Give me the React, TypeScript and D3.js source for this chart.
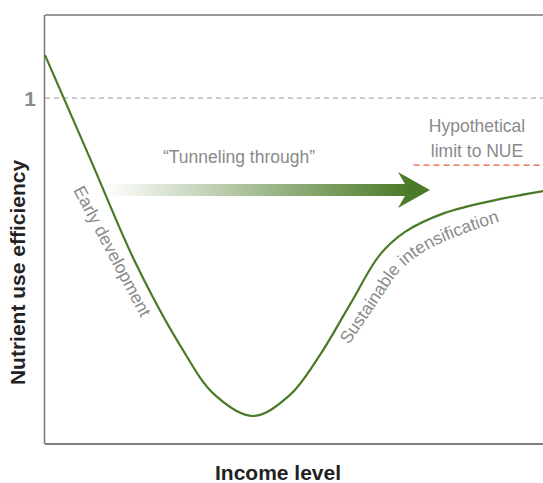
import React, { useRef, useEffect } from 'react';
import * as d3 from 'd3';

// Curve: income (0-10) vs nutrient use efficiency
const incomeLevels = [0, 0.9, 1.81, 2.71, 3.41, 4.18, 4.92, 5.52, 6.12, 6.72, 7.23, 8.03, 9.04, 10];
const nueValues = [1.124, 0.827, 0.526, 0.286, 0.142, 0.081, 0.142, 0.257, 0.402, 0.546, 0.613, 0.668, 0.705, 0.731];

// guide path for the "Sustainable intensification" label
const labelX = [6.1, 6.69, 7.13, 7.63, 8.43, 9.5];
const labelY = [0.286, 0.41, 0.5, 0.557, 0.609, 0.66];

const yTicks = [1];
const nueLimit = 0.806;
const limitStart = 7.4;
const arrowStart = 1.2;
const arrowTip = 7.73;
const arrowLevel = 0.734;

const App: React.FC = () => {
  const svgRef = useRef<SVGSVGElement>(null);
  const width = 543;
  const height = 483;

  useEffect(() => {
    if (!svgRef.current) return;
    const svg = d3.select(svgRef.current);
    svg.selectAll('*').remove();

    const left = 45, right = 543, top = 15, bottom = 444;
    const x = d3.scaleLinear().domain([0, 10]).range([left, right]);
    const y = d3.scaleLinear().domain([0, 1.24]).range([bottom, top]);

    const font = '"Liberation Sans", Arial, Helvetica, sans-serif';
    const green = '#4a7a27';
    const grey = '#8a8a8a';

    const defs = svg.append('defs');
    const grad = defs.append('linearGradient')
      .attr('id', 'tunnel')
      .attr('gradientUnits', 'userSpaceOnUse')
      .attr('x1', x(arrowStart)).attr('x2', x(arrowTip) - 20)
      .attr('y1', 0).attr('y2', 0);
    grad.append('stop').attr('offset', '0%').attr('stop-color', '#ffffff');
    grad.append('stop').attr('offset', '100%').attr('stop-color', green);

    // frame
    svg.append('line').attr('x1', left).attr('x2', right).attr('y1', top).attr('y2', top)
      .attr('stroke', '#777').attr('stroke-width', 1.5);
    svg.append('line').attr('x1', left).attr('x2', right).attr('y1', bottom).attr('y2', bottom)
      .attr('stroke', '#555').attr('stroke-width', 1.5);
    svg.append('line').attr('x1', left - 0.5).attr('x2', left - 0.5).attr('y1', top).attr('y2', bottom)
      .attr('stroke', '#777').attr('stroke-width', 1.5);

    // y = 1 reference
    yTicks.forEach(t => {
      svg.append('line')
        .attr('x1', left).attr('x2', right)
        .attr('y1', y(t)).attr('y2', y(t))
        .attr('stroke', '#999').attr('stroke-width', 1)
        .attr('stroke-dasharray', '5,4');
      svg.append('text')
        .attr('x', 30).attr('y', y(t) + 8)
        .attr('text-anchor', 'middle')
        .attr('font-family', font).attr('font-size', '21px').attr('font-weight', 700)
        .attr('fill', grey)
        .text(String(t));
    });

    // hypothetical limit
    svg.append('line')
      .attr('x1', x(limitStart)).attr('x2', right)
      .attr('y1', y(nueLimit)).attr('y2', y(nueLimit))
      .attr('stroke', '#ef5a3f').attr('stroke-width', 1.4)
      .attr('stroke-dasharray', '6,4');
    svg.append('text')
      .attr('x', 477).attr('y', y(nueLimit) - 33)
      .attr('text-anchor', 'middle')
      .attr('font-family', font).attr('font-size', '17.5px').attr('fill', grey)
      .text('Hypothetical');
    svg.append('text')
      .attr('x', 477).attr('y', y(nueLimit) - 8)
      .attr('text-anchor', 'middle')
      .attr('font-family', font).attr('font-size', '17.5px').attr('fill', grey)
      .text('limit to NUE');

    // tunneling arrow
    const ay = y(arrowLevel);
    const ax0 = x(arrowStart);
    const axTip = x(arrowTip);
    const headBack = axTip - 32;
    const pts: [number, number][] = [
      [ax0, ay - 6], [headBack + 7, ay - 6], [headBack, ay - 18], [axTip, ay],
      [headBack, ay + 18], [headBack + 7, ay + 6], [ax0, ay + 6]
    ];
    svg.append('path')
      .attr('d', 'M' + pts.map(p => p.join(',')).join('L') + 'Z')
      .attr('fill', 'url(#tunnel)');
    svg.append('text')
      .attr('x', 239).attr('y', ay - 27)
      .attr('text-anchor', 'middle')
      .attr('font-family', font).attr('font-size', '17.5px').attr('fill', grey)
      .text('\u201CTunneling through\u201D');

    // main curve
    const line = d3.line<number>()
      .x((_, i) => x(incomeLevels[i]))
      .y(d => y(d))
      .curve(d3.curveCatmullRom.alpha(0.5));
    svg.append('path')
      .attr('d', line(nueValues))
      .attr('fill', 'none')
      .attr('stroke', green)
      .attr('stroke-width', 2.2);

    // curve labels
    svg.append('text')
      .attr('transform', 'translate(73,190) rotate(62)')
      .attr('font-family', font).attr('font-size', '17.5px').attr('fill', grey)
      .text('Early development');

    const guide = d3.line<number>()
      .x((_, i) => x(labelX[i]))
      .y(d => y(d))
      .curve(d3.curveCatmullRom);
    defs.append('path').attr('id', 'susPath').attr('d', guide(labelY));
    svg.append('text')
      .attr('font-family', font).attr('font-size', '17.5px').attr('fill', grey)
      .append('textPath')
      .attr('href', '#susPath')
      .text('Sustainable intensification');

    // axis titles
    svg.append('text')
      .attr('transform', `translate(25,${(top + bottom) / 2 + 43}) rotate(-90)`)
      .attr('text-anchor', 'middle')
      .attr('font-family', font).attr('font-size', '21px').attr('font-weight', 700)
      .attr('fill', '#222')
      .text('Nutrient use efficiency');
    svg.append('text')
      .attr('x', 278).attr('y', 480)
      .attr('text-anchor', 'middle')
      .attr('font-family', font).attr('font-size', '21px').attr('font-weight', 700)
      .attr('fill', '#222')
      .text('Income level');
  }, []);

  return (
    <svg
      ref={svgRef}
      width={width}
      height={height}
      style={{ position: 'absolute', left: 0, top: 0, background: '#fff' }}
    />
  );
};

export default App;
